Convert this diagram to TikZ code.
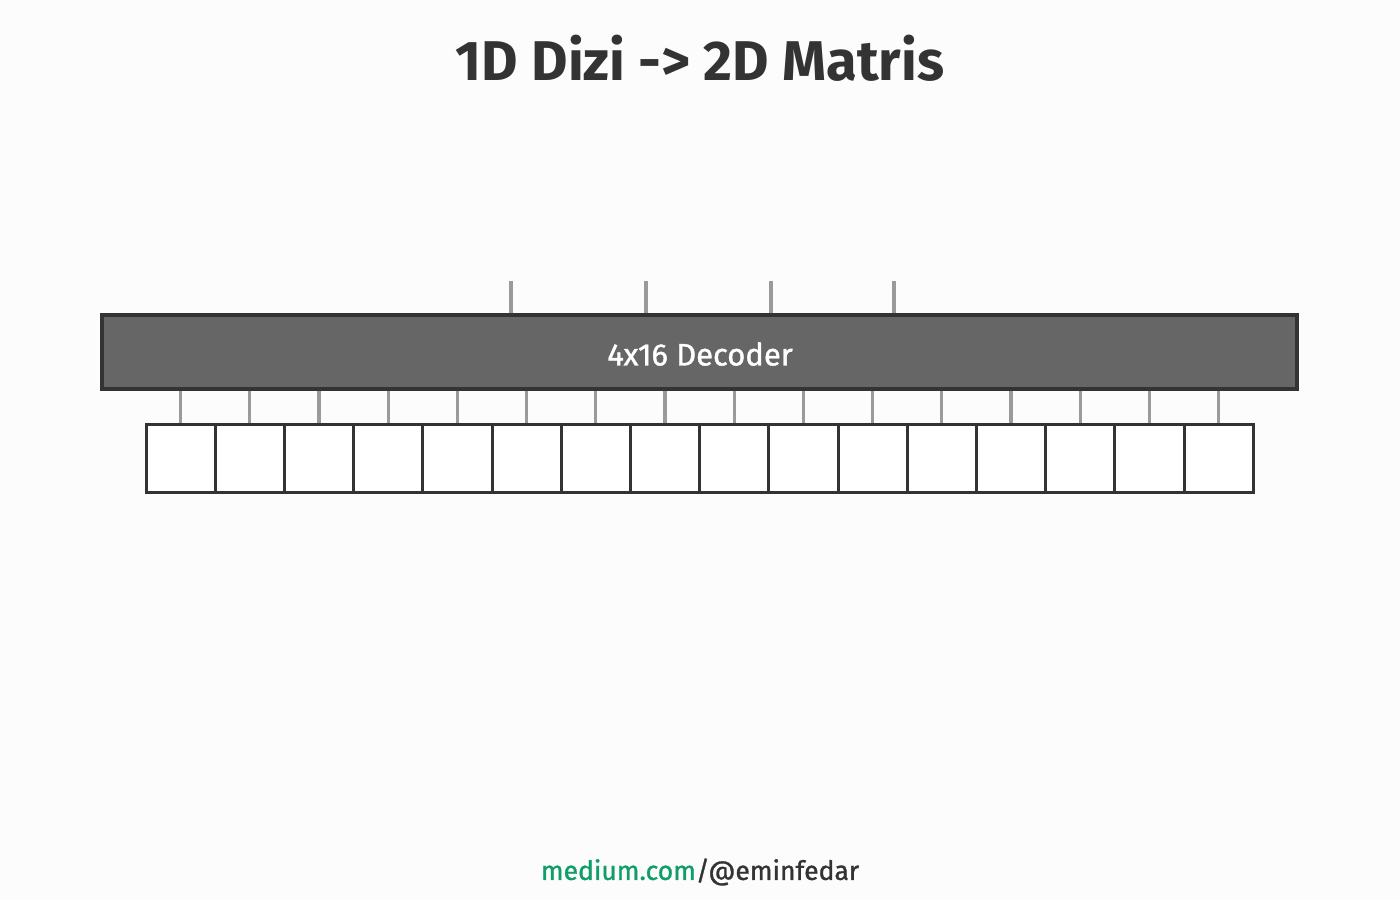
\documentclass[tikz,border=0pt]{standalone}
\usepackage{fontspec}
\setmainfont{Fira Sans}
\newfontfamily\medfont{Fira Sans}[FakeBold=1.2]
\definecolor{bg}{HTML}{FCFCFC}
\definecolor{ink}{HTML}{333333}
\definecolor{boxfill}{HTML}{666666}
\definecolor{wire}{HTML}{9A9A9A}
\definecolor{mgreen}{HTML}{0F9D6A}
\begin{document}
\begin{tikzpicture}[x=1pt,y=-1pt,
  decoderbox/.style={draw=ink,fill=boxfill,line width=3.5pt,minimum width=1195pt,minimum height=74pt,inner sep=0pt},
  labeltext/.style={text=white,font=\medfont\fontsize{31}{34}\selectfont},
  cellbox/.style={draw=ink,fill=white,line width=3pt,minimum width=69.2pt,minimum height=68pt,inner sep=0pt},
  wireline/.style={draw=wire,line width=3.2pt},
  titletext/.style={text=ink,font=\fontsize{56}{60}\selectfont\bfseries},
  foottext/.style={text=ink,font=\medfont\fontsize{26.5}{30}\selectfont}]
\fill[bg] (0,0) rectangle (1400,900);
\useasboundingbox (0,0) rectangle (1400,900);
\node[titletext] (title) at (700,58) {1D Dizi -> 2D Matris};
\node[decoderbox] (dec) at (699.5,352) {};
\node[labeltext] (declabel) at (700,354) {4x16 Decoder};
\foreach \i/\x in {1/511,2/646,3/771,4/894}{
  \coordinate (in\i) at (\x,281);
  \draw[wireline] (in\i) -- (in\i |- dec.north);
}
\foreach \i in {0,...,15}{
  \node[cellbox] (c\i) at ({146+34.6+69.2*\i},458) {};
}
\foreach \i in {0,...,15}{
  \draw[wireline] (c\i.north) -- (c\i |- dec.south);
}
\node[foottext] (foot) at (700,872) {\textcolor{mgreen}{medium.com}/@eminfedar};
\end{tikzpicture}
\end{document}
